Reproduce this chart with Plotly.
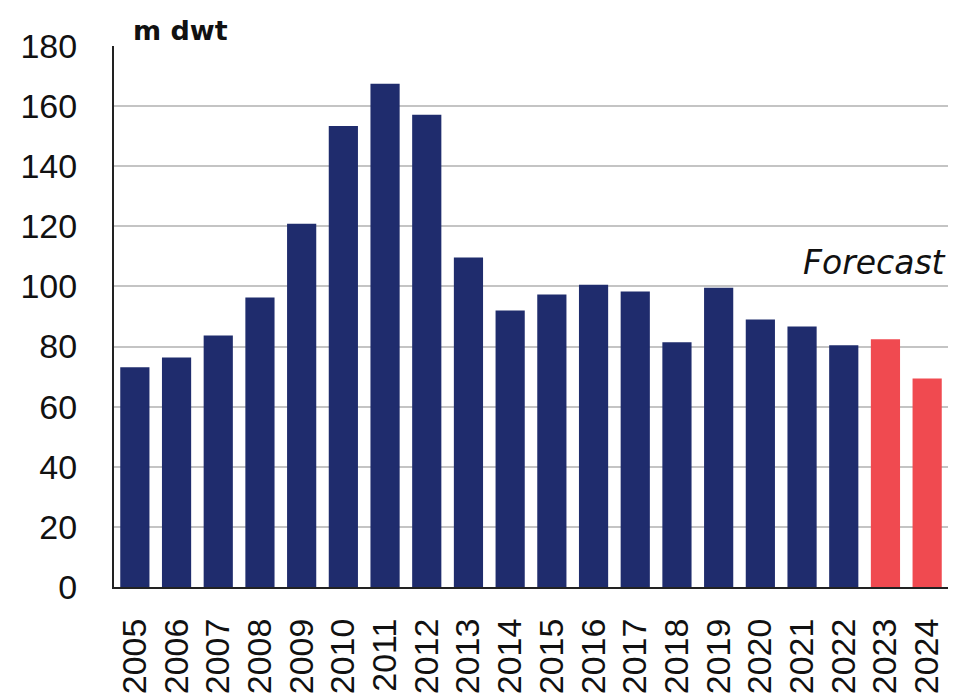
import plotly.graph_objects as go

years = [str(y) for y in range(2005, 2025)]
values = [73.1, 76.4, 83.7, 96.3, 120.9, 153.4, 167.4, 157.1, 109.6, 92.0,
          97.3, 100.6, 98.3, 81.4, 99.6, 89.0, 86.7, 80.4, 82.4, 69.4]
forecast_years = ["2023", "2024"]
navy = "#1F2C6D"
red = "#F04A50"
colors = [red if y in forecast_years else navy for y in years]

fig = go.Figure(go.Bar(x=years, y=values, marker=dict(color=colors, line=dict(width=0)),
                       width=0.7))

tick_family = "'Liberation Sans', Arial, sans-serif"
title_family = "'DejaVu Sans', sans-serif"
fig.update_layout(
    width=968, height=698,
    margin=dict(l=100, r=28, t=38, b=118),
    paper_bgcolor="white", plot_bgcolor="white",
    font=dict(family=tick_family, size=35, color="#111111"),
    showlegend=False,
)
fig.update_yaxes(range=[0, 180], dtick=20, showgrid=True, gridcolor="#C4C4C4", gridwidth=2,
                 showline=True, linecolor="#222222", linewidth=2, ticks="", ticklabelstandoff=28,
                 zeroline=False, tickfont=dict(size=34, family=tick_family))
fig.update_xaxes(showline=True, linecolor="#222222", linewidth=2, ticks="", tickangle=-90,
                 tickmode="array", tickvals=years, ticktext=years,
                 ticklabelstandoff=16, tickfont=dict(size=34, family=tick_family))

fig.add_annotation(text="<b>m dwt</b>", xref="paper", yref="paper", x=0.02, y=1.0,
                   xanchor="left", yanchor="bottom", showarrow=False,
                   font=dict(size=27, family=title_family, color="#111111"), yshift=-2)
fig.add_annotation(text="<i>Forecast</i>", xref="paper", yref="y", x=1.0, y=108,
                   xanchor="right", yanchor="middle", showarrow=False,
                   font=dict(size=33, family=title_family, color="#111111"))

fig.write_html("out.html")
